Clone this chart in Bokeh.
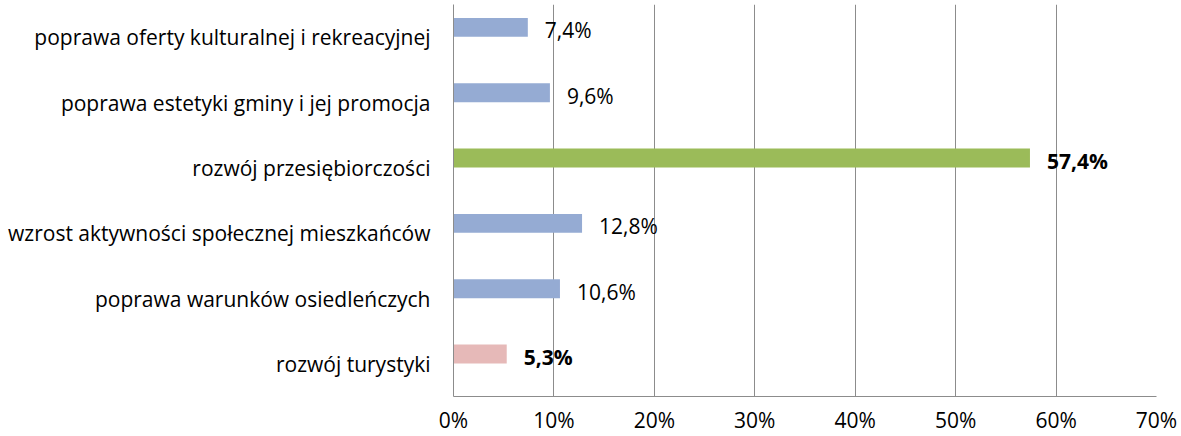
from bokeh.plotting import figure
from bokeh.models import Range1d, FixedTicker, ColumnDataSource
from bokeh.core.properties import value
from bokeh.embed import file_html
from bokeh.resources import INLINE

categories = [
    "poprawa oferty kulturalnej i rekreacyjnej",
    "poprawa estetyki gminy i jej promocja",
    "rozwój przesiębiorczości",
    "wzrost aktywności społecznej mieszkańców",
    "poprawa warunków osiedleńczych",
    "rozwój turystyki",
]
values = [7.4, 9.6, 57.4, 12.8, 10.6, 5.3]
colors = ["#95abd3", "#95abd3", "#9bbb59", "#95abd3", "#95abd3", "#e6b9b8"]
bold = [False, False, True, False, False, True]
x_ticks = [0, 10, 20, 30, 40, 50, 60, 70]

FONT = "Open Sans"
FS = "21px"
n = len(categories)
pos = [n - 1 - i for i in range(n)]          # top category highest
bar_pos = [p + 0.15 for p in pos]
labels = [("%.1f" % v).replace(".", ",") + "%" for v in values]

p = figure(width=1181, height=436, output_backend="svg", toolbar_location=None,
           x_range=Range1d(0, 70), y_range=Range1d(-0.5, 5.5),
           min_border_left=453, min_border_right=25, min_border_top=4,
           min_border_bottom=40)
p.outline_line_color = None
p.background_fill_color = "white"
p.border_fill_color = "white"

src = ColumnDataSource(dict(y=bar_pos, v=values, c=colors, lab=labels))
p.hbar(y="y", left=0, right="v", height=0.29, fill_color="c", line_color=None, source=src)

norm = ColumnDataSource(dict(y=[b for b, f in zip(bar_pos, bold) if not f],
                             v=[v for v, f in zip(values, bold) if not f],
                             lab=[l for l, f in zip(labels, bold) if not f]))
bld = ColumnDataSource(dict(y=[b for b, f in zip(bar_pos, bold) if f],
                            v=[v for v, f in zip(values, bold) if f],
                            lab=[l for l, f in zip(labels, bold) if f]))
p.text(x="v", y="y", text="lab", source=norm, x_offset=17, y_offset=3,
       text_baseline="middle", text_align="left", text_font=value(FONT),
       text_font_size=FS, text_color="black")
p.text(x="v", y="y", text="lab", source=bld, x_offset=17, y_offset=3,
       text_baseline="middle", text_align="left", text_font=value(FONT),
       text_font_size=FS, text_font_style="bold", text_color="black")

# x axis
p.xaxis.ticker = FixedTicker(ticks=x_ticks)
p.xaxis.major_label_overrides = {t: "%d%%" % t for t in x_ticks}
p.xaxis.major_tick_out = 0
p.xaxis.major_tick_in = 0
p.xaxis.minor_tick_line_color = None
p.xaxis.axis_line_color = "#8c8c8c"
p.xaxis.major_label_standoff = 9
p.xaxis.major_label_text_font = FONT
p.xaxis.major_label_text_font_size = FS
p.xaxis.major_label_text_color = "black"

# y axis
p.yaxis.ticker = FixedTicker(ticks=pos)
p.yaxis.major_label_overrides = {pp: c for pp, c in zip(pos, categories)}
p.yaxis.major_tick_out = 0
p.yaxis.major_tick_in = 0
p.yaxis.minor_tick_line_color = None
p.yaxis.axis_line_color = "#8c8c8c"
p.yaxis.major_label_standoff = 23
p.yaxis.major_label_text_font = FONT
p.yaxis.major_label_text_font_size = FS
p.yaxis.major_label_text_color = "black"

p.xgrid.ticker = FixedTicker(ticks=x_ticks)
p.xgrid.grid_line_color = "#8c8c8c"
p.xgrid.grid_line_width = 1
p.ygrid.grid_line_color = None

open("out.html", "w").write(file_html(p, INLINE))
